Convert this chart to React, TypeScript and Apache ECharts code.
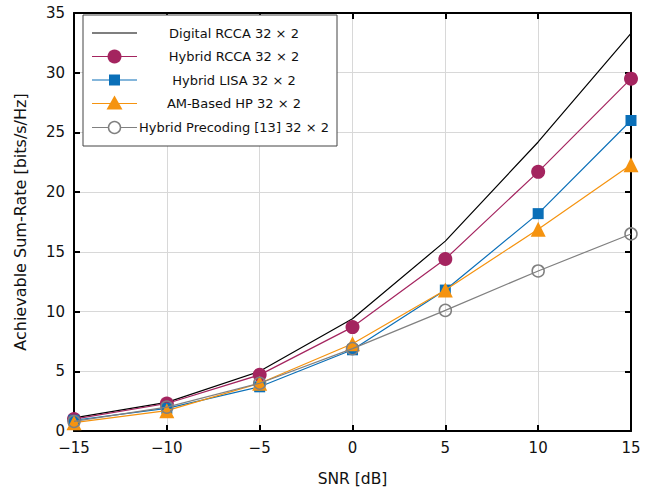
import React, { useEffect, useRef } from "react";
import * as echarts from "echarts";

const snr = [-15, -10, -5, 0, 5, 10, 15];
const digitalRCCA = [1.1, 2.4, 5.0, 9.4, 15.9, 24.2, 33.3];
const hybridRCCA = [1.0, 2.3, 4.7, 8.7, 14.4, 21.7, 29.5];
const hybridLISA = [0.9, 1.9, 3.7, 6.8, 11.8, 18.2, 26.0];
const amBasedHP = [0.7, 1.7, 4.0, 7.3, 11.8, 16.9, 22.3];
const hybridPrecoding13 = [0.8, 2.0, 4.0, 6.9, 10.1, 13.4, 16.5];

const seriesNames = [
  "Digital RCCA 32 × 2",
  "Hybrid RCCA 32 × 2",
  "Hybrid LISA 32 × 2",
  "AM-Based HP 32 × 2",
  "Hybrid Precoding [13] 32 × 2",
];
const seriesData = [digitalRCCA, hybridRCCA, hybridLISA, amBasedHP, hybridPrecoding13];
const colors = ["#000000", "#a4245f", "#0a6fb8", "#f5930f", "#808080"];
const symbols = ["none", "circle", "rect", "triangle", "circle"];
const symbolSizes = [0, 14, 11, 15, 12];

const FONT = "DejaVu Sans";
const fmt = (v: number) => String(v).replace("-", "\u2212");

export default function App() {
  const ref = useRef<HTMLDivElement>(null);
  useEffect(() => {
    if (!ref.current) return;
    const chart = echarts.init(ref.current, undefined, { renderer: "svg" });

    const series: any[] = seriesNames.map((name, i) => {
      const hollow = i === 4;
      return {
        name,
        type: "line",
        data: snr.map((x, j) => [x, seriesData[i][j]]),
        symbol: symbols[i],
        symbolSize: symbolSizes[i],
        showSymbol: symbols[i] !== "none",
        lineStyle: { color: colors[i], width: 1.2 },
        itemStyle: hollow
          ? { color: "rgba(0,0,0,0)", borderColor: colors[i], borderWidth: 1.5 }
          : { color: colors[i], borderWidth: 0 },
        z: 3 + i,
        clip: false,
      };
    });

    const lx = 83, ly = 15, lw = 254, lh = 131;
    const rowY = [33, 56.5, 80, 103.5, 127.5];
    const legendEls: any[] = [
      {
        type: "rect",
        shape: { x: lx, y: ly, width: lw, height: lh },
        style: { fill: "#fff", stroke: "#444", lineWidth: 1 },
        z: 100,
      },
    ];
    seriesNames.forEach((name, i) => {
      const y = rowY[i];
      legendEls.push({
        type: "line",
        shape: { x1: 92, y1: y, x2: 137, y2: y },
        style: { stroke: colors[i], lineWidth: 1.2 },
        z: 101,
      });
      const cx = 114.5;
      if (symbols[i] === "circle" && i !== 4) {
        legendEls.push({ type: "circle", shape: { cx, cy: y, r: 7 }, style: { fill: colors[i] }, z: 102 });
      } else if (symbols[i] === "rect") {
        legendEls.push({ type: "rect", shape: { x: cx - 5.5, y: y - 5.5, width: 11, height: 11 }, style: { fill: colors[i] }, z: 102 });
      } else if (symbols[i] === "triangle") {
        legendEls.push({
          type: "polygon",
          shape: { points: [[cx, y - 8], [cx + 8, y + 6], [cx - 8, y + 6]] },
          style: { fill: colors[i] },
          z: 102,
        });
      } else if (i === 4) {
        legendEls.push({ type: "circle", shape: { cx, cy: y, r: 6 }, style: { fill: "#fff", stroke: colors[i], lineWidth: 1.5 }, z: 102 });
      }
      legendEls.push({
        type: "text",
        x: 234,
        y,
        style: { text: name, fill: "#111", font: `13px "${FONT}"`, align: "center", verticalAlign: "middle" },
        z: 102,
      });
    });

    const axisCommon = {
      axisLine: { show: true, onZero: false, lineStyle: { color: "#000", width: 2 } },
      axisTick: { show: true, inside: true, length: 6, lineStyle: { color: "#000", width: 2 } },
    };

    chart.setOption({
      animation: false,
      backgroundColor: "#fff",
      textStyle: { fontFamily: FONT },
      grid: { left: 74, right: 18, top: 13, bottom: 62, containLabel: false },
      xAxis: [
        {
          type: "value",
          min: -15,
          max: 15,
          interval: 5,
          name: "SNR [dB]",
          nameLocation: "middle",
          nameGap: 40,
          nameTextStyle: { fontFamily: FONT, fontSize: 15.5, color: "#111" },
          ...axisCommon,
          axisLabel: { formatter: fmt, fontFamily: FONT, fontSize: 15, color: "#111", margin: 9 },
          splitLine: { show: true, lineStyle: { color: "#d8d8d8", width: 1 } },
        },
        {
          type: "value",
          position: "top",
          min: -15,
          max: 15,
          interval: 5,
          ...axisCommon,
          axisLabel: { show: false },
          splitLine: { show: false },
        },
      ],
      yAxis: [
        {
          type: "value",
          min: 0,
          max: 35,
          interval: 5,
          name: "Achievable Sum-Rate [bits/s/Hz]",
          nameLocation: "middle",
          nameGap: 46,
          nameTextStyle: { fontFamily: FONT, fontSize: 16, color: "#111" },
          ...axisCommon,
          axisLabel: { fontFamily: FONT, fontSize: 15, color: "#111", margin: 9 },
          splitLine: { show: true, lineStyle: { color: "#d8d8d8", width: 1 } },
        },
        {
          type: "value",
          position: "right",
          min: 0,
          max: 35,
          interval: 5,
          ...axisCommon,
          axisLabel: { show: false },
          splitLine: { show: false },
        },
      ],
      series,
      graphic: legendEls,
    });
    return () => chart.dispose();
  }, []);
  return <div ref={ref} style={{ width: 649, height: 493, position: "absolute", left: 0, top: 0 }} />;
}
